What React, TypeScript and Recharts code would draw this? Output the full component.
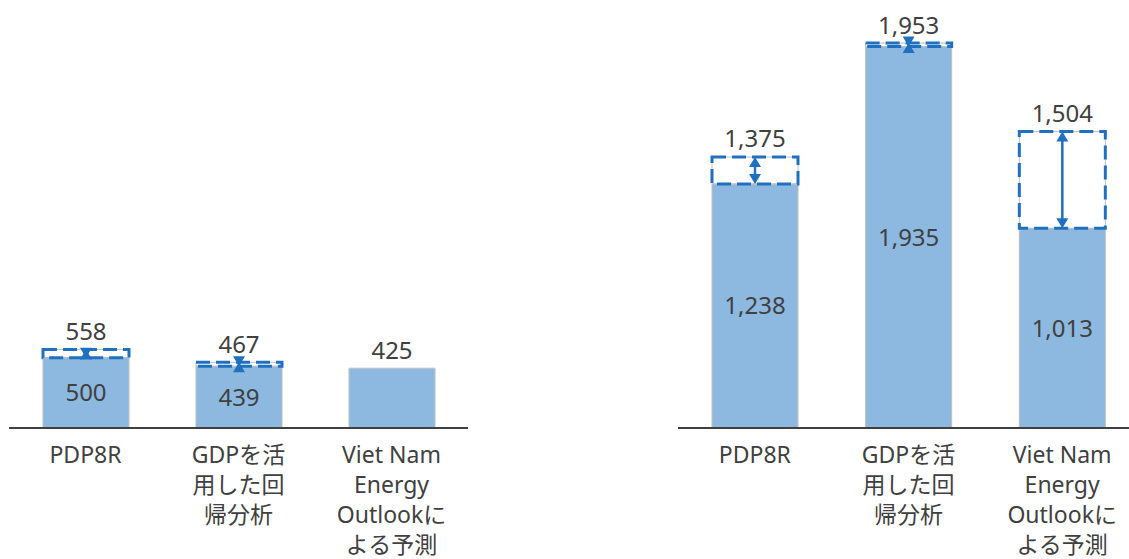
import { BarChart, Bar, XAxis, YAxis, LabelList } from "recharts";

const categories = ["PDP8R", "GDPを活用した回帰分析", "Viet Nam Energy Outlookによる予測"];
const tickLines = [
  ["PDP8R"],
  ["GDPを活", "用した回", "帰分析"],
  ["Viet Nam", "Energy", "Outlookに", "よる予測"],
];

const leftBase = [500, 439, 425];
const leftUpper: (number | null)[] = [558, 467, null];
const rightBase = [1238, 1935, 1013];
const rightUpper: (number | null)[] = [1375, 1953, 1504];

const FONT = '"Noto Sans", "Noto Sans CJK JP", sans-serif';
const TEXT = "#404040";
const BAR_FILL = "#8DB9E0";
const DASH = "#2070C0";

const fmt = (v: number) => v.toLocaleString("en-US");

function CategoryTick(props: any) {
  const { x, y, payload } = props;
  const lines = tickLines[payload.index] ?? [String(payload.value)];
  return (
    <text x={x} y={y} textAnchor="middle" fill={TEXT} fontSize={23} fontFamily={FONT}>
      {lines.map((line, i) => (
        <tspan key={i} x={x} y={y + 35 + i * 30}>
          {line}
        </tspan>
      ))}
    </text>
  );
}

// dashed range box with a double-headed arrow inside
function RangeBox(props: any) {
  const { x, y, width, height, payload } = props;
  if (payload?.upper == null || !height) return <g />;
  const cx = x + width / 2;
  const top = y;
  const bottom = y + height;
  const head = 10;
  const half = 6;
  return (
    <g>
      <rect x={x} y={y} width={width} height={height} fill="none" stroke="#BFBFBF" strokeWidth={1} />
      <rect
        x={x}
        y={y}
        width={width}
        height={height}
        fill="none"
        stroke={DASH}
        strokeWidth={3}
        strokeDasharray="14 6"
      />
      <line x1={cx} y1={bottom - head + 2} x2={cx} y2={top + head - 2} stroke={DASH} strokeWidth={2.5} />
      <polygon points={`${cx},${top} ${cx - half},${top + head} ${cx + half},${top + head}`} fill={DASH} />
      <polygon
        points={`${cx},${bottom} ${cx - half},${bottom - head} ${cx + half},${bottom - head}`}
        fill={DASH}
      />
    </g>
  );
}

interface PanelProps {
  base: number[];
  upper: (number | null)[];
  domainMax: number;
  left: number;
  width: number;
  marginLeft: number;
}

function Panel({ base, upper, domainMax, left, width, marginLeft }: PanelProps) {
  const data = categories.map((name, i) => ({
    name,
    base: base[i],
    upper: upper[i],
    range: upper[i] == null ? null : (upper[i] as number) - base[i],
  }));

  const baseLabel = (p: any) => {
    const { x, y, width: w, height: h, value, index } = p;
    const hasUpper = upper[index] != null;
    const ty = hasUpper ? y + h / 2 + 8.5 : y - 9.5;
    return (
      <text x={x + w / 2} y={ty} textAnchor="middle" fill={TEXT} fontSize={24} fontFamily={FONT}>
        {fmt(Number(value))}
      </text>
    );
  };

  const upperLabel = (p: any) => {
    const { x, y, width: w, value } = p;
    if (value == null) return null;
    return (
      <text x={x + w / 2} y={y - 9.5} textAnchor="middle" fill={TEXT} fontSize={24} fontFamily={FONT}>
        {fmt(Number(value))}
      </text>
    );
  };

  return (
    <div style={{ position: "absolute", left, top: 0 }}>
      <BarChart
        width={width}
        height={559}
        data={data}
        margin={{ top: 20, right: 0, bottom: 0, left: marginLeft }}
      >
        <XAxis
          dataKey="name"
          height={131}
          tickLine={false}
          tickSize={0}
          tickMargin={0}
          interval={0}
          axisLine={{ stroke: "#404040", strokeWidth: 2 }}
          tick={<CategoryTick />}
        />
        <YAxis hide domain={[0, domainMax]} />
        <Bar
          dataKey="base"
          stackId="a"
          fill={BAR_FILL}
          stroke="#BFBFBF"
          strokeWidth={1}
          barSize={86}
          isAnimationActive={false}
        >
          <LabelList dataKey="base" content={baseLabel} />
        </Bar>
        <Bar dataKey="range" stackId="a" barSize={86} shape={<RangeBox />} isAnimationActive={false}>
          <LabelList dataKey="upper" content={upperLabel} />
        </Bar>
      </BarChart>
    </div>
  );
}

export default function App() {
  return (
    <div
      style={{
        position: "absolute",
        left: 0,
        top: 0,
        width: 1129,
        height: 559,
        overflow: "hidden",
        background: "#fff",
      }}
    >
      <Panel base={leftBase} upper={leftUpper} domainMax={2900} left={0} width={468} marginLeft={9} />
      <Panel base={rightBase} upper={rightUpper} domainMax={2070} left={668} width={471} marginLeft={10} />
    </div>
  );
}
